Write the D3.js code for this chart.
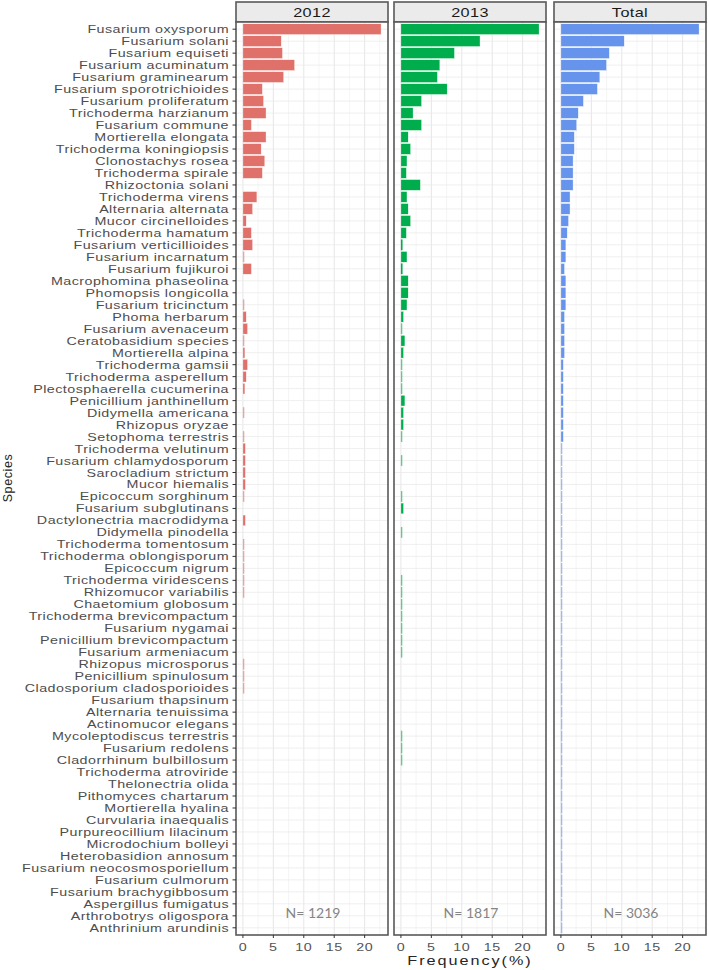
<!DOCTYPE html>
<html>
<head>
<meta charset="utf-8">
<script src="https://cdn.jsdelivr.net/npm/d3@7"></script>
<style>
  html, body { margin: 0; padding: 0; background: #ffffff; }
  svg { display: block; }
</style>
</head>
<body>
<svg id="chart" width="709" height="970"></svg>
<script>
'use strict';

// species in plot order, top to bottom
var SPECIES = [
  'Fusarium oxysporum', 'Fusarium solani', 'Fusarium equiseti', 'Fusarium acuminatum',
  'Fusarium graminearum', 'Fusarium sporotrichioides', 'Fusarium proliferatum', 'Trichoderma harzianum',
  'Fusarium commune', 'Mortierella elongata', 'Trichoderma koningiopsis', 'Clonostachys rosea',
  'Trichoderma spirale', 'Rhizoctonia solani', 'Trichoderma virens', 'Alternaria alternata',
  'Mucor circinelloides', 'Trichoderma hamatum', 'Fusarium verticillioides', 'Fusarium incarnatum',
  'Fusarium fujikuroi', 'Macrophomina phaseolina', 'Phomopsis longicolla', 'Fusarium tricinctum',
  'Phoma herbarum', 'Fusarium avenaceum', 'Ceratobasidium species', 'Mortierella alpina',
  'Trichoderma gamsii', 'Trichoderma asperellum', 'Plectosphaerella cucumerina', 'Penicillium janthinellum',
  'Didymella americana', 'Rhizopus oryzae', 'Setophoma terrestris', 'Trichoderma velutinum',
  'Fusarium chlamydosporum', 'Sarocladium strictum', 'Mucor hiemalis', 'Epicoccum sorghinum',
  'Fusarium subglutinans', 'Dactylonectria macrodidyma', 'Didymella pinodella', 'Trichoderma tomentosum',
  'Trichoderma oblongisporum', 'Epicoccum nigrum', 'Trichoderma viridescens', 'Rhizomucor variabilis',
  'Chaetomium globosum', 'Trichoderma brevicompactum', 'Fusarium nygamai', 'Penicillium brevicompactum',
  'Fusarium armeniacum', 'Rhizopus microsporus', 'Penicillium spinulosum', 'Cladosporium cladosporioides',
  'Fusarium thapsinum', 'Alternaria tenuissima', 'Actinomucor elegans', 'Mycoleptodiscus terrestris',
  'Fusarium redolens', 'Cladorrhinum bulbillosum', 'Trichoderma atroviride', 'Thelonectria olida',
  'Pithomyces chartarum', 'Mortierella hyalina', 'Curvularia inaequalis', 'Purpureocillium lilacinum',
  'Microdochium bolleyi', 'Heterobasidion annosum', 'Fusarium neocosmosporiellum', 'Fusarium culmorum',
  'Fusarium brachygibbosum', 'Aspergillus fumigatus', 'Arthrobotrys oligospora', 'Anthrinium arundinis'
];

// frequency (%) per species, same order as SPECIES
var FREQ_2012 = [
  22.7, 6.3, 6.5, 8.5, 6.7, 3.2, 3.4, 3.8, 1.4, 3.8, 3.0, 3.6, 3.2, 0, 2.3,
  1.6, 0.55, 1.4, 1.6, 0.16, 1.4, 0, 0, 0.16, 0.55, 0.77, 0.16, 0.33, 0.77, 0.55,
  0.33, 0, 0.08, 0, 0.08, 0.41, 0.41, 0.41, 0.41, 0.08, 0, 0.41, 0, 0.08, 0.08, 0.08,
  0.16, 0.16, 0, 0, 0, 0, 0, 0.08, 0.08, 0.08,
  0, 0, 0, 0, 0, 0, 0, 0, 0, 0, 0, 0, 0, 0, 0, 0, 0, 0, 0, 0
];
var FREQ_2013 = [
  22.7, 13.0, 8.8, 6.4, 6.0, 7.6, 3.4, 2.0, 3.4, 1.2, 1.6, 1.0, 0.9, 3.2, 1.0,
  1.2, 1.6, 0.9, 0.27, 1.0, 0.27, 1.2, 1.2, 1.0, 0.44, 0.2, 0.66, 0.44, 0.2, 0.2,
  0.2, 0.66, 0.44, 0.44, 0.2, 0, 0.2, 0, 0, 0.2, 0.44, 0, 0.2, 0, 0, 0,
  0.11, 0.11, 0.11, 0.11, 0.11, 0.11, 0.11, 0, 0, 0, 0, 0, 0, 0.11, 0.11, 0.11,
  0, 0, 0, 0, 0, 0, 0, 0, 0, 0, 0, 0, 0, 0
];
var FREQ_TOTAL = [
  22.7, 10.4, 7.95, 7.5, 6.4, 6.0, 3.7, 2.85, 2.6, 2.2, 2.2, 2.0, 2.0, 2.0, 1.5,
  1.5, 1.26, 1.04, 0.82, 0.82, 0.6, 0.82, 0.82, 0.82, 0.6, 0.6, 0.6, 0.6, 0.4, 0.4,
  0.4, 0.4, 0.4, 0.4, 0.4,
  0.2, 0.2, 0.2, 0.2, 0.2, 0.2, 0.2, 0.2, 0.2, 0.2, 0.2,
  0.1, 0.1, 0.1, 0.1, 0.1, 0.1, 0.1, 0.1, 0.1, 0.1, 0.1, 0.1, 0.1, 0.1, 0.1, 0.1,
  0.07, 0.07, 0.07, 0.07, 0.07, 0.07, 0.07, 0.07, 0.07, 0.07, 0.07, 0.07, 0.07, 0.07
];

var PANEL_LABELS = ['2012', '2013', 'Total'];
var N_LABELS = ['N= 1219', 'N= 1817', 'N= 3036'];
var X_TICKS = [0, 5, 10, 15, 20];
var X_MINOR = [2.5, 7.5, 12.5, 17.5, 22.5];

(function drawFacets() {
  var series = [FREQ_2012, FREQ_2013, FREQ_TOTAL];
  var colors = ['#e0706a', '#00ad4c', '#6693eb'];
  var panelLeft = [236, 394, 554];
  var panelW = 152;
  var stripTop = 2;
  var top = 22;
  var bottom = 935;
  var textScale = 1.3;

  var svg = d3.select('#chart');
  var maxVal = d3.max(series, function (s) { return d3.max(s); });

  var x = d3.scaleLinear()
    .domain([-0.05 * maxVal, 1.05 * maxVal])
    .range([0, panelW]);

  var y = d3.scalePoint()
    .domain(SPECIES)
    .range([top, bottom])
    .padding(0.6);
  var barH = y.step() * 0.9;

  function stretchedText(parent, px, py, str) {
    return parent.append('text')
      .attr('transform', 'translate(' + px + ',' + py + ') scale(' + textScale + ',1)')
      .style('font-family', '"Liberation Sans", Arial, sans-serif')
      .text(str);
  }

  series.forEach(function (values, p) {
    var g = svg.append('g').attr('transform', 'translate(' + panelLeft[p] + ',0)');

    // strip
    g.append('rect')
      .attr('x', 0).attr('y', stripTop)
      .attr('width', panelW).attr('height', top - stripTop)
      .style('fill', '#ebebeb')
      .style('stroke', '#595959')
      .style('stroke-width', 1.6);
    stretchedText(g, panelW / 2, 16.8, PANEL_LABELS[p])
      .attr('text-anchor', 'middle')
      .style('font-size', '12.5px')
      .style('letter-spacing', '0.3px')
      .style('fill', '#1a1a1a');

    // panel background + grid
    g.append('rect')
      .attr('x', 0).attr('y', top)
      .attr('width', panelW).attr('height', bottom - top)
      .style('fill', '#ffffff');

    g.selectAll('line.minor')
      .data(X_MINOR)
      .enter().append('line')
      .attr('x1', function (d) { return x(d); })
      .attr('x2', function (d) { return x(d); })
      .attr('y1', top).attr('y2', bottom)
      .style('stroke', '#f2f2f2')
      .style('stroke-width', 0.8);

    g.selectAll('line.major')
      .data(X_TICKS)
      .enter().append('line')
      .attr('x1', function (d) { return x(d); })
      .attr('x2', function (d) { return x(d); })
      .attr('y1', top).attr('y2', bottom)
      .style('stroke', '#e6e6e6')
      .style('stroke-width', 1);

    g.selectAll('line.hgrid')
      .data(SPECIES)
      .enter().append('line')
      .attr('x1', 0).attr('x2', panelW)
      .attr('y1', function (d) { return y(d); })
      .attr('y2', function (d) { return y(d); })
      .style('stroke', '#ebebeb')
      .style('stroke-width', 0.8);

    // bars; tiny ones keep a minimum visible width and no white outline
    g.selectAll('rect.bar')
      .data(SPECIES.map(function (s, i) { return { name: s, value: values[i] }; })
        .filter(function (d) { return d.value > 0; }))
      .enter().append('rect')
      .attr('x', x(0))
      .attr('y', function (d) { return y(d.name) - barH / 2; })
      .attr('width', function (d) { return Math.max(x(d.value) - x(0), 1.4); })
      .attr('height', barH)
      .style('fill', colors[p])
      .style('fill-opacity', function (d) { return x(d.value) - x(0) < 1.5 ? 0.6 : 1; })
      .style('stroke', function (d) { return x(d.value) - x(0) < 2 ? 'none' : '#ffffff'; })
      .style('stroke-width', 0.4);

    // N label
    g.append('text')
      .attr('x', panelW / 2 + 1)
      .attr('y', 918)
      .attr('text-anchor', 'middle')
      .style('font-family', 'Lato, "Open Sans", sans-serif')
      .style('font-size', '14px')
      .style('fill', '#858585')
      .text(N_LABELS[p]);

    // border
    g.append('rect')
      .attr('x', 0).attr('y', top)
      .attr('width', panelW).attr('height', bottom - top)
      .style('fill', 'none')
      .style('stroke', '#595959')
      .style('stroke-width', 1.6);

    // x axis ticks and labels
    g.selectAll('line.xtick')
      .data(X_TICKS)
      .enter().append('line')
      .attr('x1', function (d) { return x(d); })
      .attr('x2', function (d) { return x(d); })
      .attr('y1', bottom).attr('y2', bottom + 3)
      .style('stroke', '#333333')
      .style('stroke-width', 1);

    X_TICKS.forEach(function (t) {
      stretchedText(g, x(t), 951, String(t))
        .attr('text-anchor', 'middle')
        .style('font-size', '11px')
        .style('letter-spacing', '0.4px')
        .style('fill', '#555555');
    });

    // y axis on first panel only
    if (p === 0) {
      g.selectAll('line.ytick')
        .data(SPECIES)
        .enter().append('line')
        .attr('x1', -3.5).attr('x2', 0)
        .attr('y1', function (d) { return y(d); })
        .attr('y2', function (d) { return y(d); })
        .style('stroke', '#333333')
        .style('stroke-width', 1);

      SPECIES.forEach(function (s) {
        stretchedText(g, -7, y(s) + 4, s)
          .attr('text-anchor', 'end')
          .style('font-size', '11px')
          .style('letter-spacing', '0.35px')
          .style('fill', '#4d4d4d');
      });
    }
  });

  // axis titles
  stretchedText(svg, 470, 965, 'Frequency(%)')
    .attr('text-anchor', 'middle')
    .style('font-size', '12.5px')
    .style('letter-spacing', '1.5px')
    .style('fill', '#262626');

  svg.append('text')
    .attr('transform', 'translate(12,478) rotate(-90)')
    .attr('text-anchor', 'middle')
    .style('font-family', '"Liberation Sans", Arial, sans-serif')
    .style('font-size', '12.5px')
    .style('letter-spacing', '0.6px')
    .style('fill', '#262626')
    .text('Species');
}());
</script>
</body>
</html>
